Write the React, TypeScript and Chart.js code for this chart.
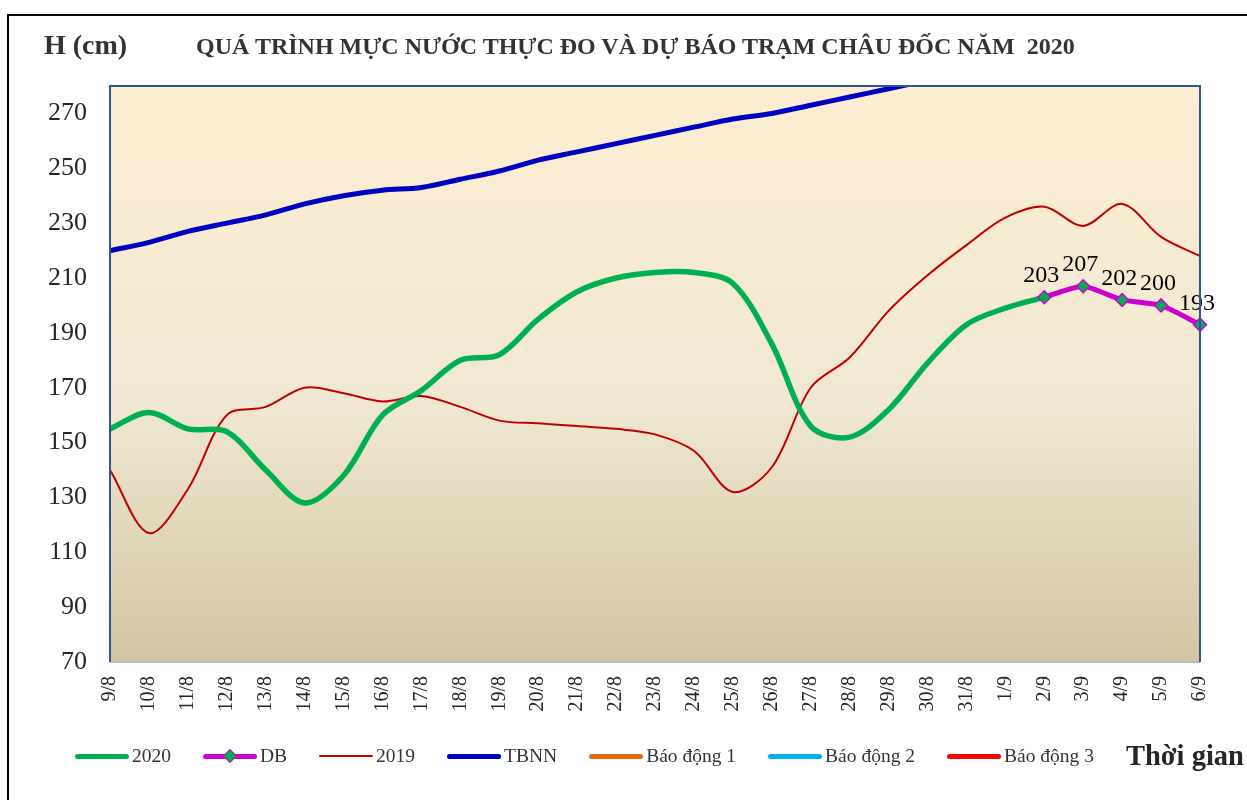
import React, { useEffect, useRef } from 'react';
import { Chart, registerables } from 'chart.js';

Chart.register(...registerables);

const CATEGORIES = [
  '9/8', '10/8', '11/8', '12/8', '13/8', '14/8', '15/8', '16/8', '17/8', '18/8',
  '19/8', '20/8', '21/8', '22/8', '23/8', '24/8', '25/8', '26/8', '27/8', '28/8',
  '29/8', '30/8', '31/8', '1/9', '2/9', '3/9', '4/9', '5/9', '6/9',
];

const SERIES_2020 = [
  155, 161, 155, 154, 140, 128, 138, 160, 169, 180,
  182, 195, 205, 210, 212, 212, 208, 186, 156, 152,
  162, 179, 193, 199, 203, null, null, null, null,
];

const SERIES_DB = [
  null, null, null, null, null, null, null, null, null, null,
  null, null, null, null, null, null, null, null, null, null,
  null, null, null, null, 203, 207, 202, 200, 193,
];

const SERIES_2019 = [
  140, 117, 133, 160, 163, 170, 168, 165, 167, 163,
  158, 157, 156, 155, 153, 147, 132, 141, 170, 181,
  198, 211, 222, 232, 236, 229, 237, 225, 218,
];

const SERIES_TBNN = [
  220, 223, 227, 230, 233, 237, 240, 242, 243, 246,
  249, 253, 256, 259, 262, 265, 268, 270, 273, 276,
  279, 282, null, null, null, null, null, null, null,
];

const ALARM_1: (number | null)[] = [];
const ALARM_2: (number | null)[] = [];
const ALARM_3: (number | null)[] = [];

const Y_TICKS = [70, 90, 110, 130, 150, 170, 190, 210, 230, 250, 270];
const Y_MIN = 70;
const Y_MAX = 280;

const TITLE = 'QUÁ TRÌNH MỰC NƯỚC THỰC ĐO VÀ DỰ BÁO TRẠM CHÂU ĐỐC NĂM  2020';
const Y_TITLE = 'H (cm)';
const X_TITLE = 'Thời gian';

const SERIF = "'Liberation Serif', 'Times New Roman', serif";

const COLORS = {
  s2020: '#00b050',
  db: '#cc00cc',
  s2019: '#c00000',
  tbnn: '#0000c0',
  a1: '#e36c0a',
  a2: '#00b0f0',
  a3: '#ff0000',
};

const LEGEND = [
  { label: '2020', color: COLORS.s2020, width: 5, marker: false },
  { label: 'DB', color: COLORS.db, width: 5, marker: true },
  { label: '2019', color: COLORS.s2019, width: 2, marker: false },
  { label: 'TBNN', color: COLORS.tbnn, width: 5, marker: false },
  { label: 'Báo động 1', color: COLORS.a1, width: 5, marker: false },
  { label: 'Báo động 2', color: COLORS.a2, width: 5, marker: false },
  { label: 'Báo động 3', color: COLORS.a3, width: 5, marker: false },
];

const bgPlugin = {
  id: 'plotBg',
  beforeDraw(chart: any) {
    const { ctx, chartArea: a } = chart;
    const g = ctx.createLinearGradient(0, a.top, 0, a.bottom);
    g.addColorStop(0, '#fdeed2');
    g.addColorStop(0.55, '#f0e8d2');
    g.addColorStop(1, '#d3c5a1');
    ctx.save();
    ctx.fillStyle = g;
    ctx.fillRect(a.left, a.top, a.right - a.left, a.bottom - a.top);
    ctx.restore();
  },
  afterDraw(chart: any) {
    const { ctx, chartArea: a } = chart;
    ctx.save();
    ctx.lineWidth = 2;
    ctx.strokeStyle = '#b4bccc';
    ctx.beginPath();
    ctx.moveTo(a.left, a.bottom);
    ctx.lineTo(a.right, a.bottom);
    ctx.stroke();
    ctx.strokeStyle = '#2f5597';
    ctx.lineWidth = 2;
    ctx.beginPath();
    ctx.moveTo(a.left, a.bottom);
    ctx.lineTo(a.left, a.top);
    ctx.lineTo(a.right, a.top);
    ctx.lineTo(a.right, a.bottom);
    ctx.stroke();
    ctx.restore();
  },
};

const labelPlugin = {
  id: 'dbLabels',
  afterDatasetsDraw(chart: any) {
    const { ctx } = chart;
    const idx = chart.data.datasets.findIndex((d: any) => d.label === 'DB');
    if (idx < 0) return;
    const meta = chart.getDatasetMeta(idx);
    const data = chart.data.datasets[idx].data;
    ctx.save();
    ctx.font = `24px ${SERIF}`;
    ctx.fillStyle = '#000';
    ctx.textAlign = 'center';
    ctx.textBaseline = 'alphabetic';
    meta.data.forEach((pt: any, i: number) => {
      const v = data[i];
      if (v === null || v === undefined) return;
      ctx.fillText(String(v), pt.x - 3, pt.y - 15);
    });
    ctx.restore();
  },
};

export default function App() {
  const ref = useRef<HTMLCanvasElement | null>(null);

  useEffect(() => {
    if (!ref.current) return;
    const chart = new Chart(ref.current, {
      type: 'line',
      data: {
        labels: CATEGORIES,
        datasets: [
          {
            label: 'TBNN', data: SERIES_TBNN, borderColor: COLORS.tbnn, borderWidth: 5,
            pointRadius: 0, tension: 0.33, fill: false, order: 4,
          },
          {
            label: '2019', data: SERIES_2019, borderColor: COLORS.s2019, borderWidth: 2,
            pointRadius: 0, tension: 0.33, fill: false, order: 3,
          },
          {
            label: '2020', data: SERIES_2020, borderColor: COLORS.s2020, borderWidth: 5.5,
            pointRadius: 0, tension: 0.33, fill: false, order: 2,
          },
          {
            label: 'DB', data: SERIES_DB, borderColor: COLORS.db, borderWidth: 5,
            pointRadius: 6.5, pointStyle: 'rectRot', pointBackgroundColor: COLORS.s2020,
            pointBorderColor: COLORS.db, pointBorderWidth: 1.5, tension: 0.2, fill: false, order: 1,
          },
          { label: 'Báo động 1', data: ALARM_1, borderColor: COLORS.a1, borderWidth: 5, pointRadius: 0 },
          { label: 'Báo động 2', data: ALARM_2, borderColor: COLORS.a2, borderWidth: 5, pointRadius: 0 },
          { label: 'Báo động 3', data: ALARM_3, borderColor: COLORS.a3, borderWidth: 5, pointRadius: 0 },
        ],
      },
      options: {
        animation: false,
        responsive: false,
        maintainAspectRatio: false,
        layout: { padding: { left: 0, top: 86, right: 47, bottom: 0 } },
        plugins: {
          legend: { display: false },
          title: { display: false },
          tooltip: { enabled: false },
        },
        scales: {
          x: {
            type: 'category',
            offset: false,
            grid: { display: false, drawTicks: false },
            border: { display: false },
            ticks: {
              autoSkip: false,
              minRotation: 90,
              maxRotation: 90,
              padding: 14,
              color: '#262626',
              font: { family: SERIF, size: 20 },
            },
            afterFit: (s: any) => { s.height = 138; },
          },
          y: {
            type: 'linear',
            min: Y_MIN,
            max: Y_MAX,
            grid: { display: false, drawTicks: false },
            border: { display: false },
            ticks: {
              padding: 23,
              color: '#262626',
              font: { family: SERIF, size: 26 },
            },
            afterBuildTicks: (s: any) => { s.ticks = Y_TICKS.map((v) => ({ value: v })); },
            afterFit: (s: any) => { s.width = 110; },
          },
        },
      },
      plugins: [bgPlugin, labelPlugin],
    });
    return () => chart.destroy();
  }, []);

  return (
    <div style={{ position: 'fixed', left: 0, top: 0, width: 1247, height: 800, overflow: 'hidden', background: '#fff' }}>
      <div style={{ position: 'absolute', left: 7, top: 14, width: 1400, height: 1000, borderTop: '2px solid #000', borderLeft: '2px solid #000' }} />
      <canvas ref={ref} width={1247} height={800} style={{ position: 'absolute', left: 0, top: 0, width: 1247, height: 800 }} />
      <div style={{ position: 'absolute', left: 44, top: 29, fontFamily: SERIF, fontWeight: 'bold', fontSize: 28, color: '#333', whiteSpace: 'pre', lineHeight: '32px' }}>{Y_TITLE}</div>
      <div style={{ position: 'absolute', left: 196, top: 31, fontFamily: SERIF, fontWeight: 'bold', fontSize: 24, color: '#333', whiteSpace: 'pre', lineHeight: '30px' }}>{TITLE}</div>
      <div style={{ position: 'absolute', left: 75, top: 741, height: 30, display: 'flex', alignItems: 'center', fontFamily: SERIF, fontSize: 19.5, color: '#333', whiteSpace: 'pre' }}>
        {LEGEND.map((it) => (
          <div key={it.label} style={{ display: 'flex', alignItems: 'center', marginRight: 32 }}>
            <div style={{ position: 'relative', width: 54, height: it.width, background: it.color, borderRadius: it.width / 2 }}>
              {it.marker && (
                <div style={{ position: 'absolute', left: 22, top: it.width / 2 - 5, width: 8, height: 8, background: COLORS.s2020, border: `1px solid ${COLORS.db}`, transform: 'rotate(45deg)' }} />
              )}
            </div>
            <span style={{ marginLeft: 3 }}>{it.label}</span>
          </div>
        ))}
        <span style={{ fontWeight: 'bold', fontSize: 28.5, color: '#262626' }}>{X_TITLE}</span>
      </div>
    </div>
  );
}
